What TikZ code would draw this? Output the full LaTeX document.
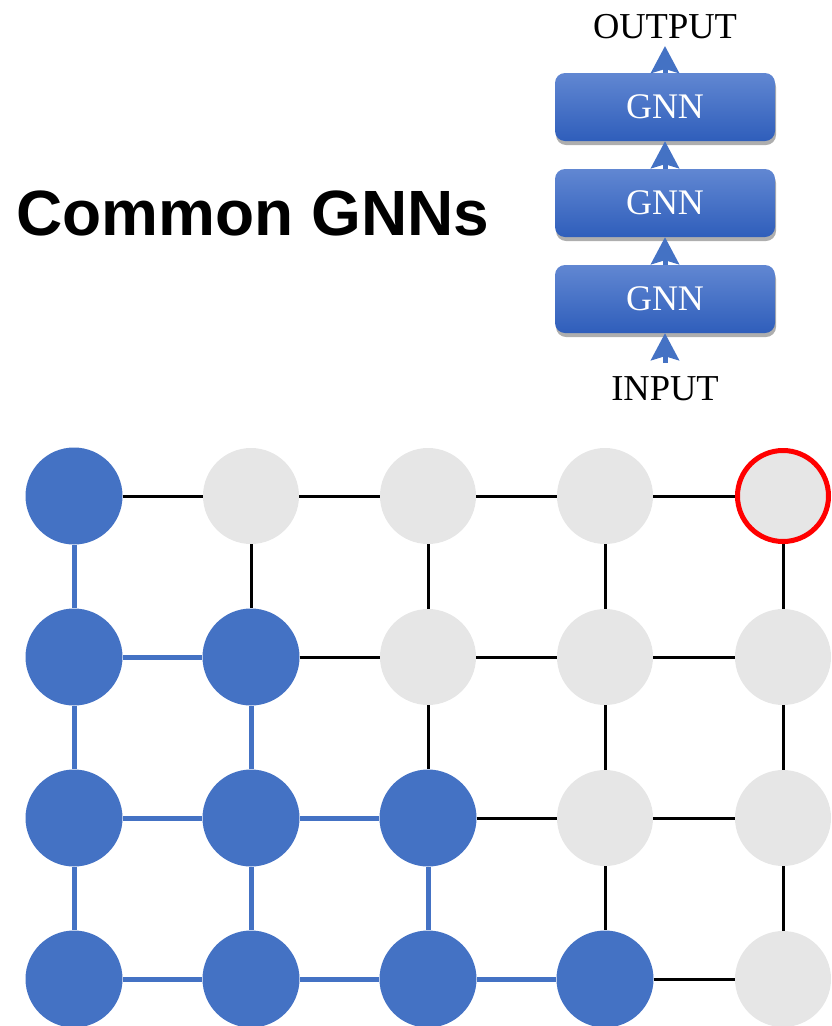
\documentclass[tikz,border=0pt]{standalone}
\usepackage{fontspec}
\setmainfont{Liberation Serif}
\newfontfamily\titlefont{Liberation Sans}
\usetikzlibrary{arrows.meta,shadows}
\definecolor{nodeblue}{HTML}{4472C4}
\definecolor{nodegray}{HTML}{E6E6E6}
\definecolor{boxtop}{HTML}{6187D2}
\definecolor{boxbot}{HTML}{2F5EBB}
\definecolor{ringred}{HTML}{FF0000}
\begin{document}
\begin{tikzpicture}[x=1pt,y=-1pt,
  bnode/.style={circle,fill=nodeblue,minimum size=97pt,inner sep=0pt},
  gnode/.style={circle,fill=nodegray,minimum size=96pt,inner sep=0pt},
  rnode/.style={circle,fill=nodegray,draw=ringred,line width=5pt,minimum size=91pt,inner sep=0pt},
  bedge/.style={draw=nodeblue,line width=5pt},
  kedge/.style={draw=black,line width=3pt},
  gnnbox/.style={rectangle,rounded corners=10pt,minimum width=220pt,minimum height=68pt,
    top color=boxtop,bottom color=boxbot,text=white,font=\fontsize{36}{40}\selectfont,
    drop shadow={shadow xshift=1pt,shadow yshift=-4pt,opacity=0.45,fill=black!70}},
  lbl/.style={font=\fontsize{36.5}{40}\selectfont,inner sep=0pt},
  uparrow/.style={draw=nodeblue,line width=5pt,-{Stealth[width=28pt,length=27pt,inset=4pt]}}
]
\useasboundingbox (0,0) rectangle (831,1026);
% title
\node[anchor=west,inner sep=0pt,font=\titlefont\bfseries\fontsize{64}{70}\selectfont] (title) at (16,213) {Common GNNs};
% GNN stack
\node[gnnbox] (g3) at (665,107) {\raisebox{-2pt}{GNN}};
\node[gnnbox] (g2) at (665,203) {\raisebox{-2pt}{GNN}};
\node[gnnbox] (g1) at (665,299) {\raisebox{-2pt}{GNN}};
\node[lbl] (out) at (665,27) {OUTPUT};
\node[lbl] (in) at (665,389) {INPUT};
\coordinate (inTop) at (665,363);
\coordinate (outBot) at (665,46);
\draw[uparrow] (inTop) -- (g1.south);
\draw[uparrow] (g1.north) -- (g2.south);
\draw[uparrow] (g2.north) -- (g3.south);
\draw[uparrow] (g3.north) -- (outBot);
% grid nodes
\def\ca{74}\def\cb{251}\def\cc{428}\def\cd{605}\def\ce{783}
\def\ra{496}\def\rb{657}\def\rc{818}\def\rd{979}
\node[bnode] (n11) at (\ca,\ra) {};
\node[gnode] (n12) at (\cb,\ra) {};
\node[gnode] (n13) at (\cc,\ra) {};
\node[gnode] (n14) at (\cd,\ra) {};
\node[rnode] (n15) at (\ce,\ra) {};
\node[bnode] (n21) at (\ca,\rb) {};
\node[bnode] (n22) at (\cb,\rb) {};
\node[gnode] (n23) at (\cc,\rb) {};
\node[gnode] (n24) at (\cd,\rb) {};
\node[gnode] (n25) at (\ce,\rb) {};
\node[bnode] (n31) at (\ca,\rc) {};
\node[bnode] (n32) at (\cb,\rc) {};
\node[bnode] (n33) at (\cc,\rc) {};
\node[gnode] (n34) at (\cd,\rc) {};
\node[gnode] (n35) at (\ce,\rc) {};
\node[bnode] (n41) at (\ca,\rd) {};
\node[bnode] (n42) at (\cb,\rd) {};
\node[bnode] (n43) at (\cc,\rd) {};
\node[bnode] (n44) at (\cd,\rd) {};
\node[gnode] (n45) at (\ce,\rd) {};
% black edges
\draw[kedge] (n11) -- (n12);
\draw[kedge] (n12) -- (n13);
\draw[kedge] (n13) -- (n14);
\draw[kedge] (n14) -- (n15);
\draw[kedge] (n22) -- (n23);
\draw[kedge] (n23) -- (n24);
\draw[kedge] (n24) -- (n25);
\draw[kedge] (n33) -- (n34);
\draw[kedge] (n34) -- (n35);
\draw[kedge] (n44) -- (n45);
\draw[kedge] (n12) -- (n22);
\draw[kedge] (n13) -- (n23);
\draw[kedge] (n14) -- (n24);
\draw[kedge] (n15) -- (n25);
\draw[kedge] (n23) -- (n33);
\draw[kedge] (n24) -- (n34);
\draw[kedge] (n25) -- (n35);
\draw[kedge] (n34) -- (n44);
\draw[kedge] (n35) -- (n45);
% blue edges
\draw[bedge] (n11) -- (n21);
\draw[bedge] (n21) -- (n31);
\draw[bedge] (n31) -- (n41);
\draw[bedge] (n21) -- (n22);
\draw[bedge] (n22) -- (n32);
\draw[bedge] (n32) -- (n42);
\draw[bedge] (n31) -- (n32);
\draw[bedge] (n32) -- (n33);
\draw[bedge] (n33) -- (n43);
\draw[bedge] (n41) -- (n42);
\draw[bedge] (n42) -- (n43);
\draw[bedge] (n43) -- (n44);
\end{tikzpicture}
\end{document}
